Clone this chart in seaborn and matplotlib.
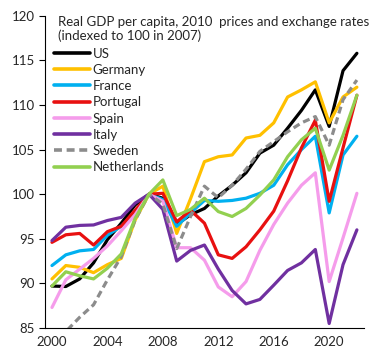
import numpy as np
import pandas as pd
import matplotlib
matplotlib.use("Agg")
import matplotlib.pyplot as plt
import seaborn as sns

# %% dados (PIB real per capita, 2007 = 100)
anos = list(range(2000, 2023))
paises = ["US", "Germany", "France", "Portugal", "Spain", "Italy", "Sweden", "Netherlands"]

us = [89.7, 89.65, 90.5, 92.3, 94.9, 96.75, 98.8, 100.0, 99.55, 96.6, 97.7, 98.4,
      99.8, 101.0, 102.4, 104.6, 105.5, 107.4, 109.4, 111.7, 107.6, 113.85, 115.8]
germany = [90.5, 92.0, 91.8, 91.2, 92.1, 92.8, 97.1, 100.0, 100.9, 95.6, 99.5, 103.65,
           104.2, 104.4, 106.3, 106.6, 108.0, 110.9, 111.7, 112.6, 108.0, 110.9, 112.0]
france = [92.0, 93.2, 93.65, 93.8, 95.4, 96.4, 97.9, 100.0, 99.4, 96.4, 97.9, 99.3,
          99.2, 99.3, 99.55, 100.1, 101.0, 103.3, 105.0, 106.5, 97.9, 104.4, 106.5]
portugal = [94.6, 95.45, 95.6, 94.3, 95.8, 96.4, 98.2, 100.0, 100.1, 96.9, 98.2, 96.75,
            93.2, 92.8, 94.1, 96.0, 98.1, 101.5, 105.2, 108.3, 99.2, 105.2, 111.1]
spain = [87.3, 90.4, 91.6, 92.8, 94.2, 95.9, 97.7, 100.0, 99.2, 94.0, 94.0, 92.6,
         89.6, 88.5, 90.2, 93.7, 96.6, 99.0, 101.0, 102.4, 90.2, 95.1, 100.1]
italy = [94.8, 96.3, 96.5, 96.55, 97.05, 97.4, 99.0, 100.0, 98.3, 92.5, 93.7, 94.3,
         91.6, 89.2, 87.7, 88.2, 89.8, 91.45, 92.3, 93.8, 85.5, 92.1, 96.0]
sweden = [83.0, 84.6, 86.2, 87.6, 90.4, 93.0, 97.1, 100.0, 98.9, 93.9, 97.5, 100.9,
          99.6, 101.0, 102.8, 104.8, 105.9, 107.0, 108.0, 108.7, 105.5, 110.6, 112.8]
netherlands = [89.7, 91.3, 90.85, 90.5, 91.7, 93.3, 97.3, 100.0, 101.6, 97.6, 98.3, 99.55,
               98.05, 97.5, 98.4, 99.9, 101.6, 104.2, 106.1, 107.4, 102.7, 106.6, 111.1]

valores = [us, germany, france, portugal, spain, italy, sweden, netherlands]
cores = ["#000000", "#FFC000", "#00B0F0", "#E81010", "#F59CEB", "#7030A0", "#8C8C8C", "#92D050"]

titulo = "Real GDP per capita, 2010  prices and exchange rates\n(indexed to 100 in 2007)"

# %% monta o dataframe longo
df = pd.DataFrame({
    "ano": anos * len(paises),
    "pais": [p for p in paises for _ in anos],
    "valor": [v for serie in valores for v in serie],
})

sns.set_style("white")
plt.rcParams["font.family"] = ["Lato", "DejaVu Sans"]

fig = plt.figure(figsize=(3.85, 3.6), dpi=100)
ax = fig.add_axes([0.117, 0.089, 0.828, 0.867])

tracos = {p: "" for p in paises}
tracos["Sweden"] = (2.2, 1.3)

sns.lineplot(data=df, x="ano", y="valor", hue="pais", style="pais",
             palette=dict(zip(paises, cores)), dashes=tracos,
             linewidth=2.3, ax=ax, legend=True)

ax.set_xlim(1999.5, 2022.5)
ax.set_ylim(85, 120)
ax.set_yticks(range(85, 121, 5))
ax.set_xticks(range(2000, 2021, 4))
ax.set_xticks(np.arange(1999.5, 2023, 1), minor=True)
ax.tick_params(axis="x", which="major", length=0, labelsize=9.5, pad=6)
ax.tick_params(axis="x", which="minor", length=4, width=0.8, direction="out", color="black")
ax.tick_params(axis="y", length=4, width=0.8, direction="out", color="black", labelsize=9.5, left=True)
ax.set_xlabel("")
ax.set_ylabel("")

for lado in ["top", "right"]:
    ax.spines[lado].set_visible(False)
for lado in ["left", "bottom"]:
    ax.spines[lado].set_color("black")
    ax.spines[lado].set_linewidth(0.8)

ax.text(0.04, 1.0, titulo, transform=ax.transAxes, ha="left", va="top",
        fontsize=9.5, linespacing=1.15)

leg = ax.legend(loc="upper left", bbox_to_anchor=(0.012, 0.915), frameon=False,
                fontsize=9.5, handlelength=2.7, handletextpad=0.2,
                labelspacing=0.32, borderaxespad=0)
for linha in leg.get_lines():
    linha.set_linewidth(2.6)

fig.savefig("out.png", dpi=100)
